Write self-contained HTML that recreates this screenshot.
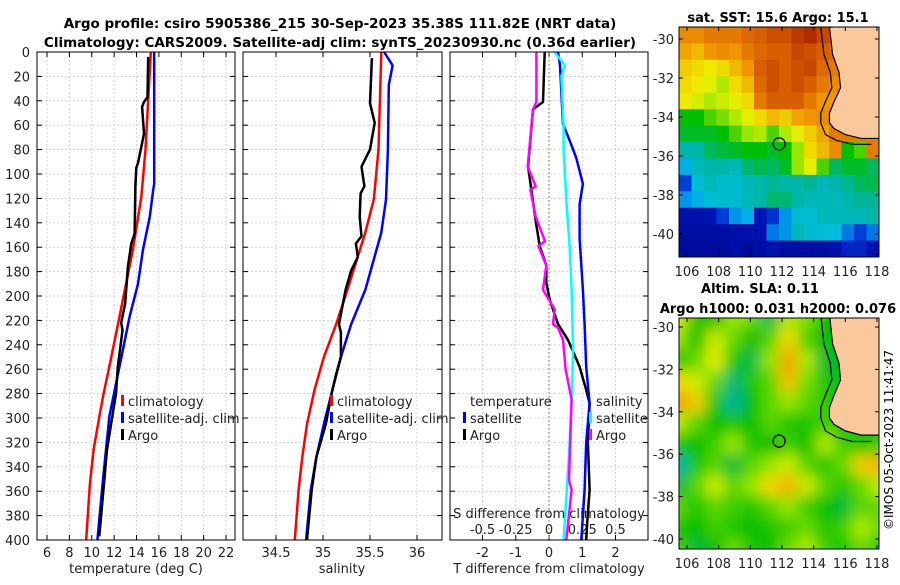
<!DOCTYPE html>
<html><head><meta charset="utf-8"><style>
body{margin:0;background:#fff;width:900px;height:580px;overflow:hidden;font-family:"Liberation Sans","DejaVu Sans",sans-serif}
svg text{font-family:"DejaVu Sans","Liberation Sans",sans-serif}
</style></head><body>
<svg id="fig" width="900" height="580" xmlns="http://www.w3.org/2000/svg">
<text x="340" y="28" font-size="13.5" font-weight="bold" text-anchor="middle">Argo profile: csiro 5905386_215 30-Sep-2023 35.38S 111.82E (NRT data)</text>
<text x="340" y="47" font-size="13.5" font-weight="bold" text-anchor="middle">Climatology: CARS2009. Satellite-adj clim: synTS_20230930.nc (0.36d earlier)</text>
<text x="778" y="22" font-size="13" font-weight="bold" text-anchor="middle">sat. SST: 15.6 Argo: 15.1</text>
<text x="760" y="293" font-size="13" font-weight="bold" text-anchor="middle">Altim. SLA: 0.11</text>
<text x="778" y="313" font-size="13" font-weight="bold" text-anchor="middle">Argo h1000: 0.031 h2000: 0.076</text>
<text transform="translate(893,440) rotate(-90)" font-size="12" text-anchor="middle">©IMOS 05-Oct-2023 11:41:47</text>
<g id="g"></g>
</svg>
<script>
// ---- data ----
const depthTicks=[0,20,40,60,80,100,120,140,160,180,200,220,240,260,280,300,320,340,360,380,400];
const tempTicks=[6,8,10,12,14,16,18,20,22];
const salTicks=[34.5,35,35.5,36];
const salTickLabels=["34.5","35","35.5","36"];
const tdTicks=[-2,-1,0,1,2];
const sdTicks=[-0.5,-0.25,0,0.25,0.5];
const tempClimDepth=[0,80,119,162,217,258,280,299,326,354,400];
const tempClim=[15.28,14.8,14.43,13.68,12.48,11.57,11.06,10.67,10.16,9.83,9.5];
const tempSatDepth=[0,108,113,135,162,190,217,244,272,299,326,354,400];
const tempSat=[15.58,15.58,15.49,15.19,14.58,14.13,13.38,12.78,12.17,11.57,11.27,10.97,10.5];
const tempArgoDepth=[4,37,41,45,67,91,95,110,149,157,176,206,222,228,258,280,326,397];
const tempArgo=[15.04,14.98,14.67,14.5,14.67,14.13,13.98,13.9,13.83,13.53,13.23,12.99,12.63,12.75,12.33,12.17,11.36,10.67];
const salClimDepth=[0,80,121,148,195,223,250,277,305,332,359,400];
const salClim=[35.62,35.59,35.54,35.45,35.26,35.14,35.01,34.91,34.83,34.78,34.74,34.7];
const salSatDepth=[0,11,27,80,121,148,195,223,250,277,305,332,359,400];
const salSat=[35.65,35.74,35.70,35.69,35.67,35.62,35.45,35.3,35.19,35.1,35.01,34.93,34.87,34.82];
const salArgoDepth=[5,42,58,80,94,110,116,135,151,157,168,179,195,223,230,250,264,277,305,332,359,400];
const salArgo=[35.52,35.5,35.55,35.5,35.41,35.44,35.40,35.39,35.41,35.35,35.37,35.3,35.24,35.17,35.19,35.19,35.14,35.1,35.03,34.93,34.88,34.83];
const tdArgoDepth=[0,41,47,69,94,113,140,159,175,189,203,223,236,258,277,288,320,359,386,400];
const tdArgo=[-0.13,-0.18,-0.48,-0.55,-0.63,-0.53,-0.39,-0.28,-0.08,-0.08,0.02,0.27,0.57,0.92,1.12,1.22,1.17,1.22,1.15,1.12];
const tdSatDepth=[0,11,59,76,87,108,125,153,195,223,258,288,320,359,400];
const tdSat=[0.27,0.33,0.42,0.67,0.82,1.02,0.92,0.92,1.02,1.07,1.12,1.22,1.12,1.07,0.97];
const sdSatDepth=[0,11,20,60,80,121,159,195,238,250,285,330,400];
const sdSat=[0.043,0.118,0.093,0.11,0.11,0.13,0.155,0.17,0.18,0.18,0.17,0.15,0.11];
const sdArgoDepth=[0,41,47,94,110,113,135,155,159,175,195,211,223,226,236,260,285,318,351,359,400];
const sdArgo=[-0.095,-0.095,-0.12,-0.16,-0.10,-0.14,-0.10,-0.03,-0.08,-0.02,-0.045,0.043,0.03,0.068,0.105,0.125,0.17,0.16,0.15,0.17,0.13];
const mapLons=[106,108,110,112,114,116,118];
const mapLats=[-30,-32,-34,-36,-38,-40];
const sstGrid=[
[.82,.82,.85,.85,.85,.88,.90,.92,.92,.95,.97,.93,.90,.90,.90,.90],
[.78,.75,.80,.82,.80,.85,.88,.90,.90,.93,.92,.90,.88,.88,.88,.88],
[.72,.70,.68,.70,.75,.80,.90,.92,.90,.92,.93,.88,.85,.85,.85,.85],
[.70,.68,.66,.62,.70,.75,.88,.92,.90,.92,.90,.85,.82,.82,.82,.82],
[.68,.65,.62,.64,.66,.70,.85,.90,.90,.90,.85,.80,.80,.80,.80,.80],
[.50,.50,.55,.58,.62,.66,.70,.75,.72,.78,.80,.82,.80,.80,.80,.80],
[.48,.48,.48,.50,.55,.60,.62,.55,.62,.66,.72,.78,.85,.85,.85,.85],
[.40,.40,.45,.47,.48,.50,.50,.48,.50,.60,.70,.75,.82,.50,.55,.85],
[.32,.38,.40,.40,.38,.44,.46,.45,.48,.60,.66,.55,.45,.48,.48,.45],
[.22,.35,.38,.36,.36,.38,.40,.42,.40,.40,.42,.38,.40,.42,.45,.46],
[.30,.32,.35,.36,.36,.38,.40,.44,.44,.40,.38,.38,.38,.40,.42,.42],
[.12,.12,.15,.22,.30,.32,.15,.20,.30,.36,.35,.38,.38,.38,.38,.40],
[.10,.10,.10,.10,.12,.12,.12,.28,.30,.38,.36,.35,.34,.28,.22,.28],
[.08,.08,.08,.08,.10,.08,.10,.14,.10,.10,.10,.10,.12,.18,.18,.14]];
const slaGrid=[
[.64,.52,.50,.60,.57,.46,.62,.58,.50,.50,.50,.50],
[.60,.50,.64,.57,.50,.56,.70,.55,.50,.50,.50,.50],
[.52,.57,.66,.52,.46,.60,.78,.62,.47,.50,.50,.50],
[.70,.64,.57,.44,.52,.56,.74,.58,.52,.48,.50,.50],
[.78,.72,.52,.42,.50,.56,.60,.56,.53,.50,.50,.50],
[.62,.56,.50,.52,.50,.56,.52,.52,.54,.52,.48,.50],
[.52,.50,.54,.60,.52,.50,.54,.50,.62,.54,.52,.54],
[.40,.52,.56,.47,.56,.60,.64,.56,.52,.57,.72,.76],
[.47,.56,.64,.56,.60,.70,.76,.64,.56,.52,.57,.64],
[.56,.52,.56,.54,.52,.56,.60,.54,.50,.47,.56,.56],
[.52,.50,.54,.52,.50,.52,.54,.57,.52,.54,.62,.57],
[.54,.47,.50,.57,.52,.50,.57,.62,.54,.52,.57,.52]];
const coastLon=[115.0,115.2,115.6,115.7,115.3,115.0,115.0,115.3,116.0,117.0,118.2];
const coastLat=[-29.4,-30.8,-31.7,-32.5,-33.2,-33.8,-34.3,-34.6,-34.9,-35.1,-35.1];
const argoLon=111.82, argoLat=-35.38;

// ---- helpers ----
const NS="http://www.w3.org/2000/svg";
const G=document.getElementById('g');
function mk(tag,attrs,parent){const e=document.createElementNS(NS,tag);for(const k in attrs)e.setAttribute(k,attrs[k]);(parent||G).appendChild(e);return e;}
const Y0=52,Y1=540;
const yD=d=>Y0+d/400*(Y1-Y0);
const panels=[
 {x0:37,x1:235,fx:v=>47+(v-6)*11.19,name:'temperature-panel'},
 {x0:243,x1:442,fx:v=>276+(v-34.5)*94,name:'salinity-panel'},
 {x0:450,x1:648,fx:v=>549+v*33.25,name:'difference-panel'}];
const sx=v=>549+v*133;
function line(xs,ys,fx,col,w,name){
 let d=xs.map((v,i)=>(i?'L':'M')+fx(v).toFixed(1)+','+yD(ys[i]).toFixed(1)).join('');
 const p=mk('path',{d:d,fill:'none',stroke:col,'stroke-width':w,'stroke-linejoin':'round'});
 
 
}
panels.forEach((P,pi)=>{
 const box=mk('rect',{x:P.x0,y:Y0,width:P.x1-P.x0,height:Y1-Y0,fill:'#fff',stroke:'none'});
 
 
 depthTicks.forEach(d=>{
  const y=yD(d);
  mk('line',{x1:P.x0,x2:P.x1,y1:y,y2:y,stroke:'#c4cce4','stroke-width':0.8,'stroke-dasharray':'2,2'});
  mk('line',{x1:P.x0,x2:P.x0+5,y1:y,y2:y,stroke:'#000'});
  mk('line',{x1:P.x1-5,x2:P.x1,y1:y,y2:y,stroke:'#000'});
  if(pi===0){const t=mk('text',{x:30,y:y+5,'font-size':13,'text-anchor':'end',fill:'#222'});t.textContent=d;
   
   }
 });
 const ticks=pi===0?tempTicks:pi===1?salTicks:tdTicks;
 const labs=pi===1?salTickLabels:ticks.map(String);
 ticks.forEach((v,i)=>{
  const x=P.fx(v);
  mk('line',{x1:x,x2:x,y1:Y0,y2:Y1,stroke:'#c4cce4','stroke-width':0.8,'stroke-dasharray':'2,2'});
  mk('line',{x1:x,x2:x,y1:Y1-5,y2:Y1,stroke:'#000'});
  mk('line',{x1:x,x2:x,y1:Y0,y2:Y0+5,stroke:'#000'});
  const t=mk('text',{x:x,y:557,'font-size':13,'text-anchor':'middle',fill:'#222'});t.textContent=labs[i];
  
  
 });
});
mk('line',{x1:549,x2:549,y1:Y0,y2:Y1,stroke:'#8a6a3a','stroke-width':1,'stroke-dasharray':'1.5,2.5'});
sdTicks.forEach(v=>{const t=mk('text',{x:sx(v),y:534,'font-size':13,'text-anchor':'middle',fill:'#222'});t.textContent=String(v);
 
 });
// series
line(tempClim,tempClimDepth,panels[0].fx,'#f00',2.5,'temp-climatology-line');
line(tempSat,tempSatDepth,panels[0].fx,'#00f',2.5,'temp-satellite-line');
line(tempArgo,tempArgoDepth,panels[0].fx,'#000',2.5,'temp-argo-line');
line(salClim,salClimDepth,panels[1].fx,'#f00',2.5,'sal-climatology-line');
line(salSat,salSatDepth,panels[1].fx,'#00f',2.5,'sal-satellite-line');
line(salArgo,salArgoDepth,panels[1].fx,'#000',2.5,'sal-argo-line');
line(tdArgo,tdArgoDepth,panels[2].fx,'#000',2.5,'tdiff-argo-line');
line(tdSat,tdSatDepth,panels[2].fx,'#00f',2.5,'tdiff-satellite-line');
line(sdSat,sdSatDepth,sx,'#0ff',2.5,'sdiff-satellite-line');
line(sdArgo,sdArgoDepth,sx,'#f0f',2.5,'sdiff-argo-line');
panels.forEach(P=>mk('rect',{x:P.x0,y:Y0,width:P.x1-P.x0,height:Y1-Y0,fill:'none',stroke:'#000','stroke-width':1}));
[['temperature (deg C)',136,'temp-axis-title'],['salinity',342,'salinity-axis-title'],['T difference from climatology',549,'tdiff-axis-title']].forEach(a=>{
 const t=mk('text',{x:a[1],y:573,'font-size':13,'text-anchor':'middle',fill:'#222'});t.textContent=a[0];
 
 });
{const t=mk('text',{x:549,y:518,'font-size':13,'text-anchor':'middle',fill:'#222'});t.textContent='S difference from climatology';
 
 }
function leg(x,y,col,txt,name){
 if(col)mk('rect',{x:x,y:y-10,width:3,height:11,fill:col});
 const t=mk('text',{x:x+(col?7:0),y:y+1,'font-size':13,fill:'#222'});t.textContent=txt;
 
 
}
[[121,'temp'],[330,'sal']].forEach(([x,p])=>{
 leg(x,405,'#f00','climatology',p+'-legend-climatology');
 leg(x,422,'#00f','satellite-adj. clim',p+'-legend-satellite');
 leg(x,439,'#000','Argo',p+'-legend-argo');
});
leg(470,405,null,'temperature','diff-legend-temperature-header');
leg(463,422,'#00f','satellite','diff-legend-t-satellite');
leg(463,439,'#000','Argo','diff-legend-t-argo');
leg(596,405,null,'salinity','diff-legend-salinity-header');
leg(589,422,'#0ff','satellite','diff-legend-s-satellite');
leg(589,439,'#f0f','Argo','diff-legend-s-argo');

// ---- maps ----
const cmapStops=[[0,0,0,130],[0.15,0,20,180],[0.25,0,80,230],[0.33,0,190,230],[0.42,0,180,150],[0.5,0,190,0],[0.6,150,230,0],[0.67,240,240,0],[0.8,240,150,0],[0.9,215,95,0],[1,160,20,0]];
function cmap(v){v=Math.max(0,Math.min(1,v));
 for(let i=1;i<cmapStops.length;i++){const a=cmapStops[i-1],b=cmapStops[i];
  if(v<=b[0]){const t=(v-a[0])/(b[0]-a[0]);return `rgb(${Math.round(a[1]+t*(b[1]-a[1]))},${Math.round(a[2]+t*(b[2]-a[2]))},${Math.round(a[3]+t*(b[3]-a[3]))})`;}}
 return 'rgb(160,20,0)';}
const defs=mk('defs',{});
const f=mk('filter',{id:'blur',x:'-10%',y:'-10%',width:'120%',height:'120%'},defs);
mk('feGaussianBlur',{stdDeviation:7},f);
function drawMap(M){
 const fx=lon=>M.x106+(lon-106)*M.sx, fy=lat=>M.y30+(-30-lat)*M.sy;
 const cp=mk('clipPath',{id:M.id+'clip'},defs);
 mk('rect',{x:M.x0,y:M.y0,width:M.x1-M.x0,height:M.y1-M.y0},cp);
 const g=mk('g',{'clip-path':`url(#${M.id}clip)`});
 
 
 const inner=mk('g',M.blur?{filter:'url(#blur)'}:{},g);
 const grid=M.grid,nr=grid.length,nc=grid[0].length;
 const m=M.blur?10:0;
 const cw=(M.x1-M.x0+2*m)/nc, ch=(M.y1-M.y0+2*m)/nr;
 grid.forEach((row,r)=>row.forEach((v,c)=>{
  mk('rect',{x:M.x0-m+c*cw,y:M.y0-m+r*ch,width:cw+0.6,height:ch+0.6,fill:cmap(v)},inner);
 }));
 let d2='M'+coastLon.map((l,i)=>fx(l-0.55)+','+fy(coastLat[i]-(i>6?0.3:0))).join('L');
 mk('path',{d:d2,fill:'none',stroke:'#000','stroke-width':1.2},g);
 let d='M'+coastLon.map((l,i)=>fx(l)+','+fy(coastLat[i])).join('L')+`L${M.x1+5},${fy(-35.1)}L${M.x1+5},${M.y0-5}Z`;
 mk('path',{d:d,fill:'#f9c89b',stroke:'#000','stroke-width':1.2},g);
 const c=mk('circle',{cx:fx(argoLon),cy:fy(argoLat),r:6,fill:'none',stroke:'#000','stroke-width':1.3});
 
 
 mk('rect',{x:M.x0,y:M.y0,width:M.x1-M.x0,height:M.y1-M.y0,fill:'none',stroke:'#000'});
 mapLons.forEach(l=>{const x=fx(l);mk('line',{x1:x,x2:x,y1:M.y1-4,y2:M.y1,stroke:'#000'});mk('line',{x1:x,x2:x,y1:M.y0,y2:M.y0+4,stroke:'#000'});
  const t=mk('text',{x:x,y:M.y1+19,'font-size':13,'text-anchor':'middle',fill:'#222'});t.textContent=l;
  
  });
 mapLats.forEach(l=>{const y=fy(l);mk('line',{x1:M.x0,x2:M.x0+4,y1:y,y2:y,stroke:'#000'});mk('line',{x1:M.x1-4,x2:M.x1,y1:y,y2:y,stroke:'#000'});
  const t=mk('text',{x:M.x0-5,y:y+5,'font-size':13,'text-anchor':'end',fill:'#222'});t.textContent=l;
  
  });
}
drawMap({id:'sst',name:'sst-map',grid:sstGrid,x0:679,x1:879,y0:27,y1:257,x106:687,sx:15.83,y30:39,sy:19.5,blur:false});
drawMap({id:'sla',name:'sla-map',grid:slaGrid,x0:679,x1:879,y0:318,y1:549,x106:687,sx:15.83,y30:327,sy:21.2,blur:true});
</script>
</body></html>
